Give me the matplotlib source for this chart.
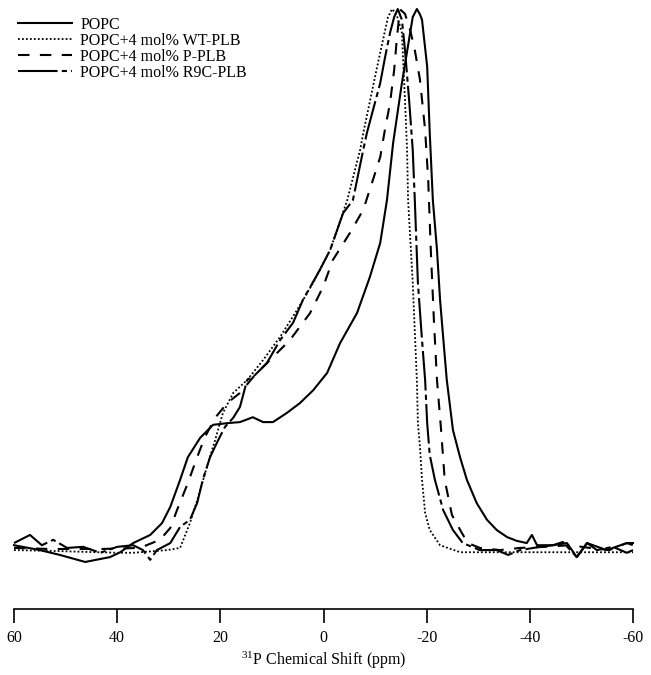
import matplotlib
matplotlib.use("Agg")
import matplotlib.pyplot as plt

plt.rcParams['font.family'] = ['Liberation Serif', 'DejaVu Serif']
plt.rcParams['mathtext.default'] = 'regular'

# ---- data (ppm, normalised intensity) ----
popc_ppm = [60.0, 55.0, 51.1, 46.2, 41.4, 39.4, 36.9, 33.6, 31.3, 29.7, 27.8, 26.3, 23.9, 21.4,
            18.7, 16.2, 13.7, 11.7, 9.8, 7.1, 4.6, 2.0, -0.7, -3.2, -6.5, -9.0, -11.0, -12.3,
            -13.5, -15.2, -16.8, -17.3, -18.1, -18.7, -19.1, -20.1, -20.6, -21.2, -22.0, -22.6,
            -23.4, -23.9, -25.1, -26.5, -27.8, -29.7, -31.7, -33.6, -35.6, -37.5, -39.4, -40.4,
            -41.4, -44.5, -47.2, -49.1, -51.1, -54.9, -58.8, -60.0]
popc_int = [0.007, -0.002, -0.011, -0.024, -0.015, -0.006, 0.011, 0.026, 0.048, 0.078, 0.128, 0.170,
            0.206, 0.230, 0.233, 0.235, 0.244, 0.235, 0.235, 0.252, 0.270, 0.294, 0.326, 0.381,
            0.437, 0.504, 0.567, 0.646, 0.752, 0.863, 0.956, 0.985, 1.0, 0.990, 0.980, 0.893,
            0.770, 0.646, 0.554, 0.461, 0.369, 0.313, 0.220, 0.169, 0.128, 0.085, 0.054, 0.035,
            0.022, 0.015, 0.011, 0.026, 0.007, 0.007, 0.011, -0.015, 0.011, -0.002, 0.011, 0.011]

wt_ppm = [60.0, 51.1, 40.0, 36.9, 30.3, 27.8, 25.9, 24.3, 22.6, 21.0, 19.5, 17.5, 14.8, 11.7, 8.4,
          5.1, 2.0, -1.3, -4.6, -7.1, -7.7, -10.4, -12.5, -13.3, -14.2, -15.2, -15.8, -16.2,
          -16.4, -17.3, -18.1, -18.3, -18.7, -19.1, -19.7, -20.6, -22.6, -26.5, -60.0]
wt_int = [-0.002, -0.004, -0.007, -0.007, -0.002, 0.002, 0.048, 0.096, 0.152, 0.202, 0.252, 0.289,
          0.313, 0.350, 0.393, 0.443, 0.493, 0.554, 0.646, 0.739, 0.770, 0.893, 0.985, 1.0, 0.989,
          0.956, 0.831, 0.739, 0.646, 0.493, 0.313, 0.233, 0.189, 0.128, 0.067, 0.035, 0.007,
          -0.006, -0.006]

p_ppm = [60.0, 53.0, 43.3, 35.6, 31.7, 29.7, 28.4, 26.3, 24.5, 23.0, 21.0, 18.7, 16.2, 13.3, 11.0,
         6.5, 2.6, 0.1, -1.8, -5.1, -7.7, -9.4, -11.0, -11.9, -12.9, -13.7, -14.2, -14.6, -15.0,
         -15.8, -16.8, -17.7, -18.7, -19.7, -20.3, -20.8, -21.4, -22.0, -22.8, -23.5, -24.9,
         -26.8, -28.0, -30.3, -34.2, -38.1, -42.9, -47.8, -51.6, -55.4, -58.8, -60.0]
p_int = [0.002, 0.0, 0.0, 0.002, 0.017, 0.039, 0.072, 0.122, 0.170, 0.207, 0.243, 0.270, 0.289,
         0.322, 0.344, 0.387, 0.437, 0.485, 0.535, 0.585, 0.628, 0.678, 0.726, 0.776, 0.826,
         0.887, 0.943, 0.980, 0.998, 0.991, 0.961, 0.924, 0.869, 0.776, 0.683, 0.554, 0.424,
         0.313, 0.220, 0.128, 0.063, 0.030, 0.011, 0.002, -0.002, 0.002, 0.004, 0.007, 0.002,
         -0.002, 0.011, 0.007]

r9c_ppm = [60.0, 56.9, 54.6, 52.4, 49.7, 46.6, 43.3, 40.0, 36.9, 35.0, 33.6, 32.3, 29.7, 27.8,
           25.9, 24.5, 23.4, 22.0, 20.4, 19.1, 17.5, 16.2, 14.8, 13.3, 11.0, 8.4, 5.9, 4.0, 0.7,
           -1.3, -3.8, -5.7, -7.7, -8.4, -9.6, -11.0, -11.9, -12.9, -13.7, -14.4, -15.2, -15.8,
           -16.6, -17.3, -17.7, -18.3, -19.1, -19.7, -20.1, -20.6, -21.6, -23.2, -25.1, -27.0,
           -30.3, -33.6, -35.8, -38.1, -42.0, -44.5, -46.4, -49.1, -51.1, -53.0, -56.1, -58.8,
           -60.0]
r9c_int = [0.011, 0.026, 0.007, 0.017, 0.002, 0.004, -0.007, 0.004, 0.007, -0.002, -0.020, -0.002,
           0.011, 0.041, 0.054, 0.085, 0.128, 0.170, 0.202, 0.226, 0.243, 0.263, 0.313, 0.322,
           0.344, 0.387, 0.419, 0.461, 0.517, 0.554, 0.622, 0.646, 0.739, 0.770, 0.813, 0.863,
           0.909, 0.956, 0.985, 1.0, 0.980, 0.924, 0.831, 0.739, 0.646, 0.493, 0.387, 0.313,
           0.233, 0.174, 0.128, 0.072, 0.035, 0.011, -0.002, -0.002, -0.011, -0.002, 0.004, 0.007,
           0.013, -0.015, 0.011, -0.002, 0.004, -0.007, -0.002]

labels = ['POPC', 'POPC+4 mol% WT-PLB', 'POPC+4 mol% P-PLB', 'POPC+4 mol% R9C-PLB']
xticks = [60, 40, 20, 0, -20, -40, -60]

W, H = 651, 675
fig = plt.figure(figsize=(W / 100, H / 100), dpi=100)
ax = fig.add_axes([14 / W, (H - 609) / H, (633 - 14) / W, 609 / H])

lw = 1.5
ax.plot(popc_ppm, popc_int, color='black', lw=lw, ls='-', label=labels[0], clip_on=False)
ax.plot(wt_ppm, wt_int, color='black', lw=1.3, ls=(0, (1, 1.2)), label=labels[1], clip_on=False)
ax.plot(p_ppm, p_int, color='black', lw=lw, ls=(0, (5.5, 5)), label=labels[2], clip_on=False)
ax.plot(r9c_ppm, r9c_int, color='black', lw=lw, ls=(0, (19, 2, 2.5, 2)), label=labels[3], clip_on=False)

ax.set_xlim(60, -60)
ax.set_ylim(-(609 - 549) / 540, 1 + 9 / 540)
for s in ['top', 'left', 'right']:
    ax.spines[s].set_visible(False)
ax.spines['bottom'].set_linewidth(1.2)
ax.set_yticks([])
ax.set_xticks(xticks)
ax.set_xticklabels([str(t) for t in xticks])
ax.tick_params(axis='x', direction='out', length=10, width=1.2, pad=5, labelsize=11.5)
ax.set_xlabel(r'$^{31}$P Chemical Shift (ppm)', fontsize=11.5, labelpad=3)

leg = ax.legend(loc='upper left', bbox_to_anchor=(18 / W, 1 - 17 / H), bbox_transform=fig.transFigure,
                frameon=False, fontsize=11.5, handlelength=3.4, handletextpad=0.5,
                labelspacing=0.0, borderpad=0, borderaxespad=0)

fig.savefig('out.png', dpi=100)
